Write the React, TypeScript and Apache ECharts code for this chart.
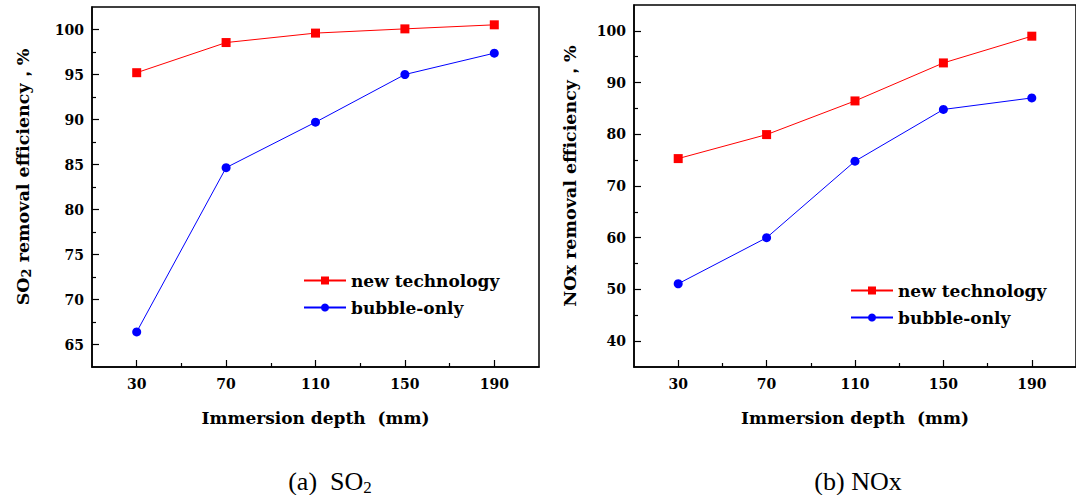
import React, { useEffect, useRef } from "react";
import * as echarts from "echarts";

const depths = [30, 70, 110, 150, 190];
const depthMinorTicks = [50, 90, 130, 170];

const so2New = [95.2, 98.55, 99.6, 100.07, 100.52];
const so2Bubble = [66.4, 84.65, 89.7, 95.0, 97.37];
const noxNew = [75.3, 79.94, 86.45, 93.8, 98.97];
const noxBubble = [51.1, 60.0, 74.8, 84.8, 87.03];

const so2MajorTicks = [65, 70, 75, 80, 85, 90, 95, 100];
const so2MinorTicks = [67.5, 72.5, 77.5, 82.5, 87.5, 92.5, 97.5];
const noxMajorTicks = [40, 50, 60, 70, 80, 90, 100];
const noxMinorTicks = [45, 55, 65, 75, 85, 95];

const seriesNames = ["new technology", "bubble-only"];

const FONT = "Liberation Serif, Times New Roman, serif";
const BOLDFONT = "DejaVu Serif, Liberation Serif, serif";
const BOLD = { fontFamily: BOLDFONT, fontWeight: "bold", color: "#000" };

function pairs(xs: number[], ys: number[]) {
  return xs.map((x, i) => [x, ys[i]]);
}

function majorX(gridIndex: number, name: string) {
  return {
    type: "value",
    gridIndex,
    position: "bottom",
    min: 10,
    max: 210,
    name,
    nameLocation: "middle",
    nameGap: 42,
    nameTextStyle: { ...BOLD, fontSize: 17 },
    axisLine: { show: true, lineStyle: { color: "#000", width: 1.5 } },
    axisTick: { show: true, inside: true, length: 7, lineStyle: { color: "#000", width: 1.2 }, customValues: depths },
    axisLabel: { show: true, customValues: depths, ...BOLD, fontSize: 14, margin: 10 },
    splitLine: { show: false },
  };
}

function minorX(gridIndex: number) {
  return {
    type: "value",
    gridIndex,
    position: "bottom",
    min: 10,
    max: 210,
    axisLine: { show: false },
    axisTick: { show: true, inside: true, length: 4, lineStyle: { color: "#000", width: 1.2 }, customValues: depthMinorTicks },
    axisLabel: { show: false },
    splitLine: { show: false },
  };
}

function majorY(gridIndex: number, min: number, max: number, ticks: number[], name: any, nameGap: number, rich: any) {
  return {
    type: "value",
    gridIndex,
    position: "left",
    min,
    max,
    name,
    nameLocation: "middle",
    nameGap,
    nameRotate: 90,
    nameTextStyle: { ...BOLD, fontSize: 17.5, rich, padding: [0, 0, 0, 20] },
    axisLine: { show: true, lineStyle: { color: "#000", width: 1.5 } },
    axisTick: { show: true, inside: true, length: 7, lineStyle: { color: "#000", width: 1.2 }, customValues: ticks },
    axisLabel: { show: true, customValues: ticks, ...BOLD, fontSize: 14, margin: 8 },
    splitLine: { show: false },
  };
}

function minorY(gridIndex: number, min: number, max: number, ticks: number[]) {
  return {
    type: "value",
    gridIndex,
    position: "left",
    min,
    max,
    axisLine: { show: false },
    axisTick: { show: true, inside: true, length: 4, lineStyle: { color: "#000", width: 1.2 }, customValues: ticks },
    axisLabel: { show: false },
    splitLine: { show: false },
  };
}

function lineSeries(name: string, data: number[][], xAxisIndex: number, yAxisIndex: number, color: string, symbol: string) {
  return {
    type: "line",
    name,
    data,
    xAxisIndex,
    yAxisIndex,
    symbol,
    symbolSize: 9,
    showSymbol: true,
    lineStyle: { color, width: 1 },
    itemStyle: { color },
    z: 3,
  };
}

export default function App() {
  const ref = useRef<HTMLDivElement>(null);

  useEffect(() => {
    document.body.style.margin = "0";
    const chart = echarts.init(ref.current!, undefined, { renderer: "svg" });
    const nameRich = {
      b: { ...BOLD, fontSize: 17.5 },
      s: { ...BOLD, fontSize: 13, verticalAlign: "bottom", padding: [7, 0, 0, 0] },
    };
    const legendCommon = {
      orient: "vertical",
      padding: 0,
      itemWidth: 42,
      itemHeight: 10,
      itemGap: 10,
      textStyle: { ...BOLD, fontSize: 17 },
      data: seriesNames,
    };
    const option: any = {
      animation: false,
      backgroundColor: "#fff",
      grid: [
        { left: 92, top: 7, width: 447, height: 360, show: true, borderColor: "#000", borderWidth: 1.5, backgroundColor: "transparent" },
        { left: 634, top: 5, width: 449, height: 362, show: true, borderColor: "#000", borderWidth: 1.5, backgroundColor: "transparent" },
      ],
      xAxis: [
        majorX(0, "Immersion depth  (mm)"),
        minorX(0),
        majorX(1, "Immersion depth  (mm)"),
        minorX(1),
      ],
      yAxis: [
        majorY(0, 62.5, 102.5, so2MajorTicks, "{b|SO}{s|2}{b| removal efficiency，%}", 59, nameRich),
        minorY(0, 62.5, 102.5, so2MinorTicks),
        majorY(1, 35, 105, noxMajorTicks, "NOx removal efficiency，%", 55, nameRich),
        minorY(1, 35, 105, noxMinorTicks),
      ],
      legend: [
        { ...legendCommon, left: 303, top: 272 },
        { ...legendCommon, left: 850, top: 282 },
      ],
      series: [
        lineSeries(seriesNames[0], pairs(depths, so2New), 0, 0, "#ff0000", "rect"),
        lineSeries(seriesNames[1], pairs(depths, so2Bubble), 0, 0, "#0000ff", "circle"),
        lineSeries(seriesNames[0], pairs(depths, noxNew), 2, 2, "#ff0000", "rect"),
        lineSeries(seriesNames[1], pairs(depths, noxBubble), 2, 2, "#0000ff", "circle"),
      ],
      graphic: [
        {
          type: "text",
          x: 330,
          y: 481,
          style: {
            text: "{n|(a)  SO}{s|2}",
            align: "center",
            verticalAlign: "middle",
            rich: {
              n: { fontFamily: FONT, fontSize: 26, fill: "#000" },
              s: { fontFamily: FONT, fontSize: 17, fill: "#000", verticalAlign: "bottom", padding: [12, 0, 0, 0] },
            },
          },
        },
        {
          type: "text",
          x: 858,
          y: 481,
          style: { text: "(b) NOx", fontFamily: FONT, fontSize: 26, fill: "#000", align: "center", verticalAlign: "middle" },
        },
      ],
    };
    chart.setOption(option);
    return () => chart.dispose();
  }, []);

  return <div ref={ref} style={{ position: "absolute", left: 0, top: 0, width: 1076, height: 495 }} />;
}
